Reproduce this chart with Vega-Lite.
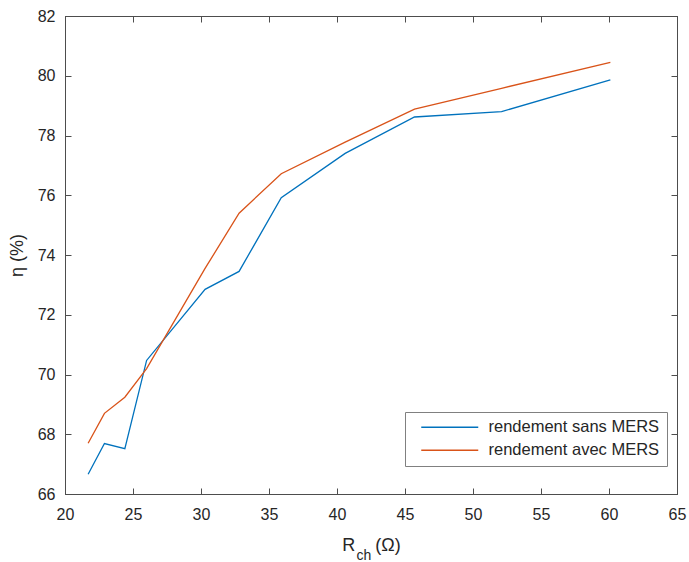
{
  "$schema": "https://vega.github.io/schema/vega-lite/v6.json",
  "width": 612,
  "height": 478,
  "autosize": "none",
  "padding": {"left": 65, "top": 16, "right": 12, "bottom": 68},
  "background": "white",
  "config": {
    "font": "Liberation Sans",
    "view": {"stroke": "#4d4d4d", "strokeWidth": 1},
    "axis": {
      "grid": false,
      "domainColor": "#4d4d4d",
      "tickColor": "#4d4d4d",
      "labelColor": "#262626",
      "titleColor": "#262626",
      "labelFont": "Liberation Sans",
      "titleFont": "Liberation Sans",
      "labelFontSize": 16,
      "titleFontSize": 18,
      "titleFontWeight": "normal",
      "tickSize": -6
    }
  },
  "title": {
    "text": "ch",
    "orient": "bottom",
    "anchor": "middle",
    "fontSize": 14,
    "fontWeight": "normal",
    "color": "#262626",
    "font": "Liberation Sans",
    "dx": -7,
    "offset": -5
  },
  "data": {
    "values": [
      {"R": 21.7, "eta": 66.66, "serie": "rendement sans MERS"},
      {"R": 22.9, "eta": 67.69, "serie": "rendement sans MERS"},
      {"R": 24.4, "eta": 67.52, "serie": "rendement sans MERS"},
      {"R": 26.0, "eta": 70.47, "serie": "rendement sans MERS"},
      {"R": 30.3, "eta": 72.85, "serie": "rendement sans MERS"},
      {"R": 32.8, "eta": 73.45, "serie": "rendement sans MERS"},
      {"R": 35.9, "eta": 75.92, "serie": "rendement sans MERS"},
      {"R": 40.6, "eta": 77.40, "serie": "rendement sans MERS"},
      {"R": 45.7, "eta": 78.62, "serie": "rendement sans MERS"},
      {"R": 52.1, "eta": 78.80, "serie": "rendement sans MERS"},
      {"R": 60.1, "eta": 79.86, "serie": "rendement sans MERS"},
      {"R": 21.7, "eta": 67.70, "serie": "rendement avec MERS"},
      {"R": 22.9, "eta": 68.70, "serie": "rendement avec MERS"},
      {"R": 24.4, "eta": 69.24, "serie": "rendement avec MERS"},
      {"R": 26.0, "eta": 70.20, "serie": "rendement avec MERS"},
      {"R": 30.3, "eta": 73.55, "serie": "rendement avec MERS"},
      {"R": 32.8, "eta": 75.40, "serie": "rendement avec MERS"},
      {"R": 35.9, "eta": 76.72, "serie": "rendement avec MERS"},
      {"R": 40.6, "eta": 77.78, "serie": "rendement avec MERS"},
      {"R": 45.7, "eta": 78.88, "serie": "rendement avec MERS"},
      {"R": 52.1, "eta": 79.58, "serie": "rendement avec MERS"},
      {"R": 60.1, "eta": 80.45, "serie": "rendement avec MERS"}
    ]
  },
  "resolve": {"axis": {"x": "independent", "y": "independent"}},
  "layer": [
    {
      "mark": {"type": "line", "strokeWidth": 1.3},
      "encoding": {
        "x": {
          "field": "R", "type": "quantitative",
          "scale": {"domain": [20, 65], "nice": false, "zero": false},
          "axis": {"values": [20, 25, 30, 35, 40, 45, 50, 55, 60, 65], "title": "R\u00a0\u00a0\u00a0\u00a0(Ω)", "titlePadding": 14, "labelPadding": 18, "labelFlush": false}
        },
        "y": {
          "field": "eta", "type": "quantitative",
          "scale": {"domain": [66, 82], "nice": false, "zero": false},
          "axis": {"values": [66, 68, 70, 72, 74, 76, 78, 80, 82], "title": "η (%)", "titlePadding": 11, "labelPadding": 16, "labelFlush": false}
        },
        "color": {
          "field": "serie", "type": "nominal",
          "scale": {"domain": ["rendement sans MERS", "rendement avec MERS"], "range": ["#0072BD", "#D95319"]},
          "legend": {
            "title": null,
            "orient": "none",
            "legendX": 340,
            "legendY": 396,
            "symbolType": "M0.2,0H11.6",
            "symbolSize": 100,
            "symbolStrokeWidth": 1.3,
            "symbolFillColor": "transparent",
            "labelFontSize": 16.5,
            "labelLimit": 400,
            "labelColor": "#262626",
            "labelOffset": 60,
            "labelExpr": "datum.label + '\u00a0\u00a0'",
            "strokeColor": "#808080",
            "fillColor": "white",
            "padding": 7,
            "rowPadding": 6
          }
        },
        "order": {"field": "R", "type": "quantitative"}
      }
    },
    {
      "mark": {"type": "line", "strokeOpacity": 0},
      "encoding": {
        "x": {
          "field": "R", "type": "quantitative",
          "scale": {"domain": [20, 65], "nice": false, "zero": false},
          "axis": {"orient": "top", "values": [20, 25, 30, 35, 40, 45, 50, 55, 60, 65], "labels": false, "title": null}
        },
        "y": {
          "field": "eta", "type": "quantitative",
          "scale": {"domain": [66, 82], "nice": false, "zero": false},
          "axis": {"orient": "right", "values": [66, 68, 70, 72, 74, 76, 78, 80, 82], "labels": false, "title": null}
        },
        "detail": {"field": "serie", "type": "nominal"}
      }
    }
  ]
}
